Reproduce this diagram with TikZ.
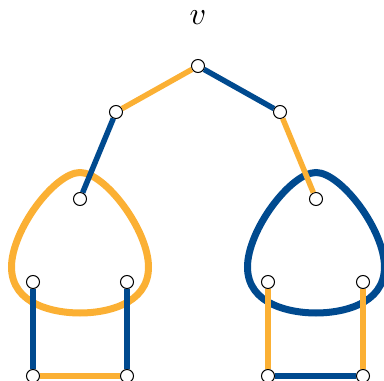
\documentclass[tikz,border=0pt]{standalone}
\usepackage{tikz}
\usetikzlibrary{positioning}
\definecolor{TreeOrange}{RGB}{251, 176, 52}
\definecolor{TreeBlue}{RGB}{0, 74, 143}

\begin{document}
\begin{tikzpicture}[x=1pt, y=-1pt,
    vtx/.style={circle, draw=black, fill=white, line width=1pt, minimum size=13pt, inner sep=0pt},
    oedge/.style={line width=5.5pt, TreeOrange},
    bedge/.style={line width=5.5pt, TreeBlue},
    oloop/.style={line width=7pt, TreeOrange},
    bloop/.style={line width=7pt, TreeBlue}
  ]
    \useasboundingbox (0,0) rectangle (384,381);
    \node[scale=3.2] (vlab) at (198,18) {$v$};
    % tree
    \node[vtx] (v)  at (198,66)  {};
    \node[vtx] (l)  at (116,112) {};
    \node[vtx] (r)  at (280,112) {};
    \node[vtx] (ll) at (80,199)  {};
    \node[vtx] (rr) at (316,199) {};
    \node[vtx] (l1) at (33,282)  {};
    \node[vtx] (l2) at (127,282) {};
    \node[vtx] (l3) at (33,376)  {};
    \node[vtx] (l4) at (127,376) {};
    \node[vtx] (r1) at (268,282) {};
    \node[vtx] (r2) at (363,282) {};
    \node[vtx] (r3) at (268,376) {};
    \node[vtx] (r4) at (363,376) {};
    % loops
    \foreach \dx/\st in {0/oloop, 236/bloop}
      \draw[\st, shift={(\dx,0)}] (80,172.5)
        .. controls (105,172.5) and (148.5,230) .. (148.5,267)
        .. controls (148.5,305) and (105,313) .. (80,313)
        .. controls (55,313) and (11.5,305) .. (11.5,267)
        .. controls (11.5,230) and (55,172.5) .. cycle;
    % edges
    \draw[oedge] (v) -- (l);
    \draw[bedge] (v) -- (r);
    \draw[bedge] (l) -- (ll);
    \draw[oedge] (r) -- (rr);
    \draw[bedge] (l1) -- (l3);
    \draw[bedge] (l2) -- (l4);
    \draw[oedge] (l3) -- (l4);
    \draw[oedge] (r1) -- (r3);
    \draw[oedge] (r2) -- (r4);
    \draw[bedge] (r3) -- (r4);
  \end{tikzpicture}
\end{document}
